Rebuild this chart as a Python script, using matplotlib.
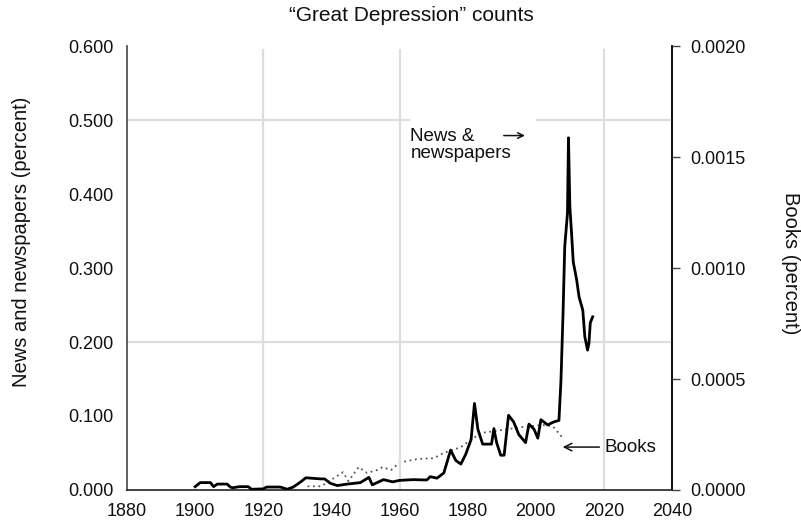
import matplotlib
matplotlib.use("Agg")
import matplotlib.pyplot as plt
from matplotlib.patches import Rectangle

plt.rcParams['font.family'] = ['Liberation Sans', 'DejaVu Sans']

news_years = [1900, 1901.5, 1904.5, 1905.4, 1906.5, 1909.4, 1910.3, 1911, 1913, 1915.6,
              1916.5, 1920, 1921, 1925, 1927, 1928.8, 1931, 1932.5, 1936.8, 1938,
              1939.7, 1941.7, 1944.7, 1948.5, 1951, 1952, 1955.3, 1958, 1960, 1964,
              1968, 1969, 1971, 1973, 1975, 1976.5, 1978, 1979.4, 1981, 1982,
              1983, 1984.4, 1987, 1987.7, 1988.5, 1989.7, 1990.7, 1992, 1993.5, 1995,
              1997, 1998, 1999.5, 2000.6, 2001.5, 2003.5, 2005.3, 2006.8, 2007.4, 2008,
              2008.5, 2009.3, 2009.6, 2010, 2010.5, 2011, 2012, 2012.7, 2013.8, 2014.4,
              2015.2, 2015.6, 2016, 2016.7]
news_values = [0.0045, 0.010, 0.010, 0.0045, 0.008, 0.008, 0.004, 0.003, 0.0045, 0.0045,
               0.001, 0.0015, 0.004, 0.004, 0.001, 0.004, 0.011, 0.0165, 0.015, 0.015,
               0.009, 0.006, 0.008, 0.010, 0.017, 0.007, 0.014, 0.011, 0.013, 0.014,
               0.0135, 0.018, 0.016, 0.023, 0.054, 0.040, 0.035, 0.048, 0.068, 0.117,
               0.082, 0.062, 0.062, 0.083, 0.064, 0.047, 0.047, 0.101, 0.092, 0.075,
               0.064, 0.089, 0.082, 0.070, 0.095, 0.088, 0.092, 0.094, 0.149, 0.239,
               0.329, 0.374, 0.476, 0.383, 0.347, 0.308, 0.284, 0.261, 0.243, 0.207,
               0.189, 0.198, 0.226, 0.234]

books_years = [1933, 1937, 1943.4, 1945, 1948, 1950.5, 1953.4, 1955, 1957.5, 1960,
               1963, 1965.5, 1970, 1973, 1978, 1981, 1984, 1990, 1995.6, 2002,
               2005, 2008]
books_values = [0.0000167, 0.0000167, 0.00008, 0.00004, 0.000103, 0.0000767, 0.00009,
                0.000103, 0.00009, 0.000123, 0.000133, 0.00014, 0.000143, 0.000167,
                0.000193, 0.000227, 0.000257, 0.00027, 0.000283, 0.000293, 0.000287,
                0.000233]

x_ticks = [1880, 1900, 1920, 1940, 1960, 1980, 2000, 2020, 2040]
left_ticks = [0.0, 0.1, 0.2, 0.3, 0.4, 0.5, 0.6]
right_ticks = [0.0, 0.0005, 0.0010, 0.0015, 0.0020]

fig = plt.figure(figsize=(8.01, 5.2), dpi=100)
ax = fig.add_axes([0.1586, 0.0577, 0.839 - 0.1586, 0.9115 - 0.0577])
ax2 = ax.twinx()

grid_c = '#dddddd'
for gx in [1920, 1960, 2020]:
    ax.axvline(gx, color=grid_c, lw=1.6, zorder=0, ymax=0.99)
for gy in [0.2, 0.5]:
    ax.axhline(gy, color=grid_c, lw=1.6, zorder=0)

ax2.plot(books_years, books_values, color='#555555', lw=1.3, ls=(0, (1, 2)), zorder=2)
ax.plot(news_years, news_values, color='black', lw=2.0, zorder=3)

ax.set_zorder(ax2.get_zorder() + 1)
ax.patch.set_visible(False)

ax.set_xlim(1880, 2040)
ax.set_ylim(0, 0.6)
ax2.set_ylim(0, 0.002)

ax.set_xticks(x_ticks)
ax.set_yticks(left_ticks)
ax.set_yticklabels([f"{v:.3f}" for v in left_ticks])
ax2.set_yticks(right_ticks)
ax2.set_yticklabels([f"{v:.4f}" for v in right_ticks])

for a in (ax, ax2):
    a.spines['top'].set_visible(False)
ax.spines['left'].set_color('#444444')
ax2.spines['right'].set_color('#444444')
ax.spines['bottom'].set_color('#222222')
ax2.spines['left'].set_visible(False)
ax2.spines['bottom'].set_visible(False)
for a in (ax, ax2):
    for s in a.spines.values():
        s.set_linewidth(1.2)

TS = 13
ax.tick_params(axis='x', length=0, pad=9.5, labelsize=TS, colors='#111111')
ax.tick_params(axis='y', length=0, pad=10, labelsize=TS, colors='#111111')
ax2.tick_params(axis='y', length=6, width=1.0, color='#444444', pad=7,
                labelsize=TS, labelcolor='#111111')

ax.set_ylabel("News and newspapers (percent)", fontsize=14.5, color='#111111',
              va='center')
ax.yaxis.set_label_coords(-0.193, 0.56)
ax2.set_ylabel("Books (percent)", fontsize=14.5, rotation=270, color='#111111',
               va='center')
ax2.yaxis.set_label_coords(1.2165, 0.51)
fig.text(0.514, 0.971, "\u201cGreat Depression\u201d counts", ha='center', va='center',
         fontsize=15, color='#111111')

ax.add_patch(Rectangle((1963.0, 0.44), 37.0, 0.072, facecolor='white',
                       edgecolor='none', zorder=1))
ax.text(1963.2, 0.466, "News &\nnewspapers", ha='left', va='center', fontsize=13.5,
        linespacing=1.0, color='#111111', zorder=4)
ax.annotate("", xy=(1996.8, 0.479), xytext=(1990.6, 0.479),
            arrowprops=dict(arrowstyle='->', color='#111111', lw=1.1,
                            shrinkA=0, shrinkB=0), zorder=5)
ax.annotate("Books", xy=(2007.9, 0.058), xytext=(2020.3, 0.058),
            ha='left', va='center', fontsize=13.5, color='#111111',
            arrowprops=dict(arrowstyle='->', color='#111111', lw=1.1,
                            shrinkA=2, shrinkB=0), zorder=5)

fig.savefig("out.png", dpi=100)
